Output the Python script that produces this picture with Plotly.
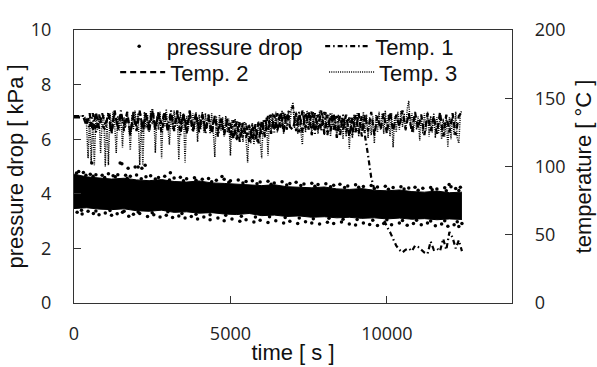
import plotly.graph_objects as go

# ---------------- data ----------------
# Temp. 3 (dotted), sampled every 50 s, deg C
t3_time = list(range(0, 12401, 50))
t3_vals = [
    137, 137, 137, 137, 137, 137, 137, 136, 131, 106, 138, 103, 134, 101, 139, 127, 137, 110, 133, 138,
    100, 136, 101, 139, 128, 140, 131, 110, 137, 126, 139, 114, 136, 129, 140, 132, 112, 138, 127, 141,
    130, 139, 101, 135, 101, 140, 128, 138, 125, 141, 131, 139, 110, 137, 127, 140, 106, 138, 129, 142,
    131, 116, 139, 127, 141, 130, 138, 105, 140, 128, 139, 103, 137, 126, 141, 129, 139, 127, 140, 118,
    138, 127, 140, 125, 139, 128, 138, 124, 139, 127, 107, 137, 123, 138, 126, 136, 122, 137, 125, 135,
    108, 134, 121, 135, 119, 133, 122, 132, 118, 133, 120, 103, 131, 117, 132, 116, 130, 118, 133, 117,
    106, 134, 121, 136, 108, 138, 126, 139, 127, 140, 125, 138, 128, 141, 124, 139, 127, 141, 129, 143,
    147, 128, 140, 124, 139, 126, 116, 140, 125, 141, 127, 139, 123, 140, 126, 138, 124, 141, 128, 139,
    123, 140, 126, 138, 122, 139, 127, 137, 121, 138, 124, 136, 120, 137, 122, 135, 113, 136, 121, 138,
    125, 139, 122, 137, 126, 140, 124, 138, 121, 136, 123, 137, 117, 138, 125, 140, 127, 139, 124, 141,
    128, 138, 122, 139, 114, 137, 125, 140, 127, 141, 129, 139, 126, 142, 148, 130, 139, 125, 138, 127,
    137, 119, 138, 124, 139, 126, 140, 122, 137, 125, 139, 121, 136, 124, 138, 120, 135, 122, 137, 114,
    136, 120, 138, 123, 140, 121, 117, 139, 141,
]

# Temp. 1 (dash-dot) and Temp. 2 (dashed), sampled every 100 s, deg C
t12_time = list(range(0, 12401, 100))
t1_vals = [
    137, 137, 137, 137, 134, 128, 139, 125, 138, 130,
    127, 140, 124, 139, 129, 141, 126, 138, 123, 140,
    128, 141, 125, 139, 130, 142, 127, 140, 124, 139,
    129, 141, 126, 140, 123, 139, 128, 141, 125, 138,
    127, 139, 124, 138, 126, 137, 122, 136, 125, 135,
    121, 134, 119, 133, 122, 132, 118, 131, 120, 133,
    123, 135, 126, 138, 125, 139, 128, 140, 127, 141,
    144, 126, 140, 125, 139, 127, 141, 124, 138, 126,
    140, 123, 139, 127, 137, 122, 138, 125, 136, 123,
    138, 124, 137, 124, 108, 92, 82, 74, 67, 61,
    56, 52, 47, 42, 39, 37, 39, 40, 38, 42,
    41, 39, 37, 36, 45, 39, 40, 38, 47, 39,
    52, 48, 40, 46, 38,
]
t2_vals = [
    136, 136, 136, 136, 130, 139, 126, 140, 128, 139,
    131, 138, 125, 141, 127, 139, 130, 140, 124, 138,
    126, 140, 129, 138, 125, 141, 128, 139, 131, 140,
    125, 139, 127, 141, 130, 138, 124, 140, 127, 139,
    125, 138, 127, 136, 124, 137, 126, 135, 123, 134,
    131, 120, 133, 118, 132, 121, 130, 119, 131, 117,
    134, 122, 137, 124, 138, 126, 140, 125, 139, 129,
    127, 139, 125, 141, 128, 140, 123, 139, 127, 141,
    124, 138, 126, 139, 121, 137, 127, 138, 122, 136,
    125, 139, 122, 138, 126, 140, 123, 137, 127, 139,
    124, 140, 126, 138, 129, 141, 127, 139, 125, 140,
    128, 138, 123, 139, 126, 137, 124, 140, 122, 138,
    125, 139, 123, 137, 140,
]

# Pressure drop: dense core band (upper / lower edges), kPa
p_band_time = [0, 400, 800, 1200, 1600, 2000, 2400, 2800, 3200, 3600, 4000, 4400, 4800, 5200, 5600, 6000,
               6400, 6800, 7200, 7600, 8000, 8400, 8800, 9200, 9600, 10000, 10400, 10800, 11200, 11600,
               12000, 12400]
p_band_upper = [4.72, 4.62, 4.58, 4.54, 4.57, 4.51, 4.48, 4.52, 4.45, 4.43, 4.47, 4.40, 4.38, 4.36, 4.32, 4.30,
                4.33, 4.26, 4.24, 4.22, 4.25, 4.18, 4.16, 4.19, 4.13, 4.11, 4.14, 4.08, 4.06, 4.10, 4.04, 4.06]
p_band_lower = [3.46, 3.49, 3.44, 3.42, 3.45, 3.38, 3.36, 3.40, 3.32, 3.34, 3.29, 3.31, 3.26, 3.24, 3.28, 3.20,
                3.22, 3.17, 3.19, 3.14, 3.16, 3.12, 3.14, 3.10, 3.12, 3.08, 3.11, 3.07, 3.09, 3.05, 3.08, 3.06]

# Pressure drop: scattered individual points around the band, kPa
p_time = [150, 300, 520, 700, 900, 1100, 1250, 1400, 1650, 1800, 2000, 2300, 2450, 2700, 2900, 3200,
          3400, 3600, 3850, 4100, 4300, 4550, 4800, 5000, 5250, 5500, 5700, 5950, 6200, 6400, 6650, 6900,
          7100, 7350, 7600, 7800, 8050, 8300, 8500, 8750, 9000, 9250, 9500, 9700, 9950, 10200, 10450,
          10700, 10900, 11150, 11400, 11600, 11850, 12050, 12200, 12350,
          567, 1475, 1530, 1730, 1955, 2050, 2170, 2275, 3080, 4730, 11990,
          100, 260, 450, 620, 800, 1000, 1200, 1380, 1550, 1750, 1900, 2100, 2350, 2550, 2750, 2950,
          3150, 3350, 3550, 3750, 3950, 4150, 4350, 4600, 4800, 5050, 5300, 5500, 5750, 5950, 6200,
          6450, 6700, 6900, 7150, 7400, 7600, 7850, 8100, 8300, 8550, 8800, 9000, 9250, 9450, 9700,
          9900, 10150, 10400, 10650, 10850, 11100, 11300, 11550, 11750, 11950, 12150, 12300, 12400,
          80, 380, 610, 980, 1320, 1700, 2150, 2600, 3050, 3500, 3900, 4400, 4950, 5400, 5850, 6300,
          6800, 7250, 7700, 8200, 8650, 9100, 9600, 10050, 10550, 11000, 11450, 11900, 12300,
          240, 700, 1150, 1600, 2050, 2500, 3000, 3450, 3900, 4350, 4850, 5350, 5800, 6250, 6750,
          7200, 7650, 8150, 8600, 9050, 9550, 10000, 10500, 10950, 11400, 11850, 12250]
p_vals = [4.82, 4.78, 4.72, 4.70, 4.68, 4.73, 4.66, 4.70, 4.68, 4.64, 4.69, 4.62, 4.66, 4.60, 4.64, 4.58,
          4.61, 4.55, 4.59, 4.53, 4.56, 4.50, 4.53, 4.48, 4.51, 4.45, 4.48, 4.43, 4.46, 4.40, 4.44, 4.38,
          4.42, 4.36, 4.39, 4.34, 4.37, 4.31, 4.35, 4.29, 4.33, 4.27, 4.30, 4.25, 4.28, 4.23, 4.26,
          4.21, 4.24, 4.20, 4.23, 4.18, 4.22, 4.26, 4.19, 4.24,
          5.13, 5.13, 5.10, 4.94, 4.98, 4.98, 4.94, 5.05, 4.77, 4.63, 4.34,
          3.32, 3.26, 3.36, 3.28, 3.23, 3.30, 3.21, 3.27, 3.32, 3.18, 3.25, 3.28, 3.17, 3.23, 3.15, 3.21,
          3.13, 3.19, 3.11, 3.17, 3.08, 3.15, 3.05, 3.11, 3.01, 3.08, 2.99, 3.05, 2.97, 3.03, 2.95,
          3.01, 2.93, 2.99, 2.91, 2.98, 2.93, 2.89, 2.96, 2.91, 2.97, 2.89, 2.86, 2.93, 2.88, 2.84,
          2.91, 2.87, 2.93, 2.85, 2.91, 2.87, 2.93, 2.83, 2.89, 2.81, 2.87, 2.80, 2.91,
          4.76, 4.68, 4.64, 4.60, 4.62, 4.57, 4.55, 4.54, 4.51, 4.48, 4.50, 4.44, 4.42, 4.40, 4.37, 4.35,
          4.32, 4.30, 4.28, 4.26, 4.23, 4.24, 4.19, 4.17, 4.18, 4.13, 4.15, 4.11, 4.12,
          3.40, 3.37, 3.39, 3.36, 3.33, 3.31, 3.34, 3.28, 3.25, 3.23, 3.21, 3.18, 3.15, 3.16, 3.13,
          3.11, 3.09, 3.10, 3.07, 3.06, 3.03, 3.05, 3.02, 3.03, 3.00, 3.01, 2.98]

x_ticks = [0, 5000, 10000]
x_tick_labels = ["0", "5000", "10000"]
y_left_ticks = [0, 2, 4, 6, 8, 10]
y_right_ticks = [0, 50, 100, 150, 200]

# ---------------- figure ----------------
TXT = "Liberation Sans, Arial, sans-serif"
TICKF = dict(family="Open Sans, sans-serif", size=18, color="#222222")
TITLEF = dict(family=TXT, size=22, color="#111111")
AX = "#333333"

fig = go.Figure()

fig.add_trace(go.Scatter(x=p_band_time, y=p_band_lower, mode="lines",
                         line=dict(color="black", width=1), showlegend=False, hoverinfo="skip"))
fig.add_trace(go.Scatter(x=p_band_time, y=p_band_upper, mode="lines", fill="tonexty",
                         fillcolor="black", line=dict(color="black", width=1),
                         showlegend=False, hoverinfo="skip"))
fig.add_trace(go.Scatter(x=p_time, y=p_vals, mode="markers", name="pressure drop",
                         marker=dict(color="black", size=3.5), legend="legend"))

fig.add_trace(go.Scatter(x=t12_time, y=t2_vals, mode="lines", name="Temp. 2", yaxis="y2",
                         line=dict(color="black", width=2.2, dash="6px,4px"), legend="legend3"))
fig.add_trace(go.Scatter(x=t3_time, y=t3_vals, mode="lines", name="Temp. 3", yaxis="y2",
                         line=dict(color="black", width=1.5, dash="1px,1.2px"), legend="legend4"))
fig.add_trace(go.Scatter(x=t12_time, y=t1_vals, mode="lines", name="Temp. 1", yaxis="y2",
                         line=dict(color="black", width=2.2, dash="5px,3px,1.5px,3px"), legend="legend2"))

leg_common = dict(bgcolor="rgba(0,0,0,0)", font=TITLEF,
                  yanchor="middle", xanchor="left", itemwidth=45, borderwidth=0)

fig.update_layout(
    width=597, height=367,
    margin=dict(l=74, r=85, t=30, b=64),
    paper_bgcolor="white", plot_bgcolor="white",
    legend=dict(x=0.086, y=0.94, **leg_common),
    legend2=dict(x=0.562, y=0.94, **leg_common),
    legend3=dict(x=0.094, y=0.845, **leg_common),
    legend4=dict(x=0.571, y=0.845, **leg_common),
    xaxis=dict(range=[0, 14000], tickvals=x_ticks, ticktext=x_tick_labels, ticks="inside", ticklen=7,
               tickcolor=AX, showline=True, linecolor=AX, linewidth=1.3, mirror=True, showgrid=False,
               zeroline=False, tickfont=TICKF, ticklabelstandoff=14, automargin=False,
               title=dict(text="time [ s ]", font=TITLEF, standoff=0)),
    yaxis=dict(range=[0, 10], tickvals=y_left_ticks, ticks="inside", ticklen=7, tickcolor=AX,
               showline=True, linecolor=AX, linewidth=1.3, mirror=True, showgrid=False, zeroline=False,
               tickfont=TICKF, ticklabelstandoff=18, automargin=False,
               title=dict(text="pressure drop [ kPa ]", font=TITLEF, standoff=0)),
    yaxis2=dict(range=[0, 200], tickvals=y_right_ticks, overlaying="y", side="right", ticks="inside",
                ticklen=7, tickcolor=AX, showline=True, linecolor=AX, linewidth=1.3, showgrid=False,
                zeroline=False, tickfont=TICKF, ticklabelstandoff=18, automargin=False,
                title=dict(text="temperature [ °C ]", font=TITLEF, standoff=10)),
)

fig.write_html("out.html", config={"displayModeBar": False},
               post_script="document.body.style.margin='0';document.body.style.overflow='hidden';")
